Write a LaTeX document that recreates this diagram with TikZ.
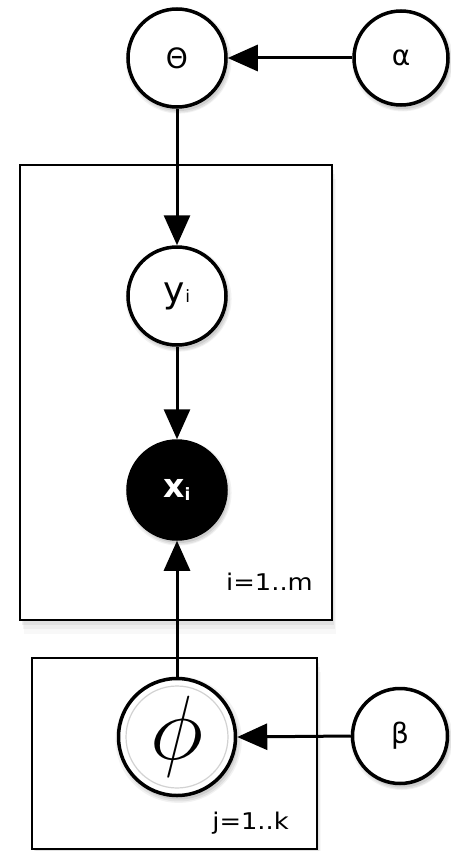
\documentclass[tikz,border=0pt]{standalone}
\usepackage{fontspec}
\usepackage{graphicx}
\setmainfont{DejaVu Sans}
\usetikzlibrary{arrows.meta,shadows}
\begin{document}
\begin{tikzpicture}[x=1pt,y=-1pt,
  softshadow/.style={
    drop shadow={opacity=0.10, shadow xshift=1.5pt, shadow yshift=-2.5pt, shadow scale=1.08},
    drop shadow={opacity=0.14, shadow xshift=2pt, shadow yshift=-3.5pt, shadow scale=1.04},
    drop shadow={opacity=0.20, shadow xshift=2pt, shadow yshift=-4pt, shadow scale=1.0}},
  plateshadow/.style={
    drop shadow={opacity=0.06, shadow xshift=4pt, shadow yshift=-14pt},
    drop shadow={opacity=0.08, shadow xshift=3pt, shadow yshift=-9pt},
    drop shadow={opacity=0.12, shadow xshift=2pt, shadow yshift=-5pt}},
  var/.style={circle, draw=black, line width=3.5pt, fill=white, minimum size=98pt, inner sep=0pt, softshadow},
  obs/.style={var, fill=black, text=white},
  plate/.style={draw=black, line width=2.2pt, fill=white, plateshadow},
  edge/.style={line width=3pt, -{Triangle[length=30pt,width=26pt]}},
  lab/.style={font=\fontsize{28}{28}\selectfont},
  platelab/.style={font=\fontsize{23}{23}\selectfont, anchor=base east, inner sep=0pt, xscale=1.12}
]
\useasboundingbox (0,0) rectangle (450,851);
% plates
\node[plate, minimum width=312pt, minimum height=455pt, inner sep=0pt] (p1) at (176,392.5) {};
\node[plate, minimum width=285pt, minimum height=191pt, inner sep=0pt] (p2) at (174.5,753.5) {};
\node[platelab] (l1) at (313,590) {i=1..m};
\node[platelab] (l2) at (289,829) {j=1..k};
% nodes
\node[var, lab] (theta) at (177,58) {Θ};
\node[var, lab, minimum size=94pt] (alpha) at (401,58) {α};
\node[var, font=\fontsize{36}{36}\selectfont] (y) at (177,296) {y\raisebox{0pt}{\fontsize{17}{17}\selectfont i}};
\node[obs, font=\fontsize{33}{33}\selectfont\bfseries] (x) at (177,490) {x\raisebox{-3pt}{\fontsize{17}{17}\selectfont i}};
\node[var, minimum size=117pt, font=\fontsize{20}{20}\selectfont] (phi) at (177,737) {\scalebox{4.4}{$\phi$}};
\draw[gray!35, line width=1.2pt] (phi.center) circle (51pt);
\node[var, lab, minimum size=95pt] (beta) at (400,736) {β};
% edges
\draw[edge] (alpha) -- (theta);
\draw[edge] (theta) -- (y);
\draw[edge] (y) -- (x);
\draw[edge] (phi) -- (x);
\draw[edge] (beta.west) -- (phi.east);
\end{tikzpicture}
\end{document}
